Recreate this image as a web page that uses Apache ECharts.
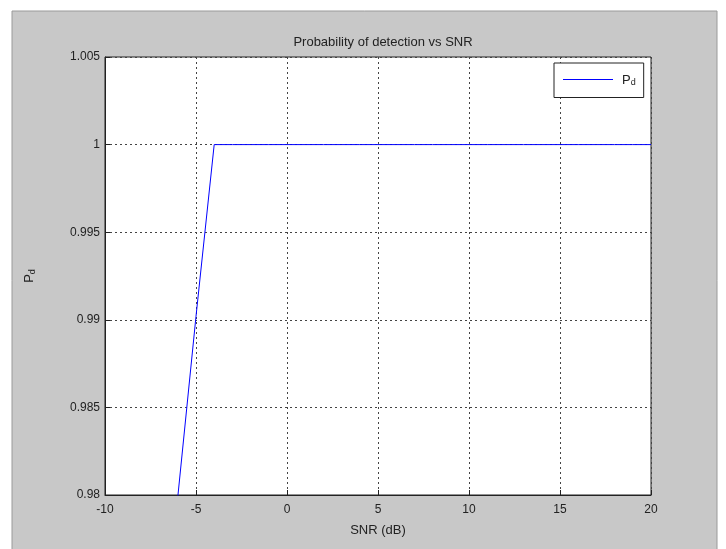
<!DOCTYPE html>
<html>
<head>
<meta charset="utf-8">
<script src="https://cdn.jsdelivr.net/npm/echarts@6/dist/echarts.min.js"></script>
<style>
  html, body { margin: 0; padding: 0; background: #fff; }
  #main { width: 726px; height: 549px; }
</style>
</head>
<body>
<div id="main"></div>
<script>
// SNR in dB and detection probability
let snr = [-6, -5, -4, -3, -2, -1, 0, 1, 2, 3, 4, 5, 6, 7, 8, 9, 10, 11, 12, 13, 14, 15, 16, 17, 18, 19, 20];
let pd = [0.9799, 0.9902, 1, 1, 1, 1, 1, 1, 1, 1, 1, 1, 1, 1, 1, 1, 1, 1, 1, 1, 1, 1, 1, 1, 1, 1, 1];
let xTicks = [-10, -5, 0, 5, 10, 15, 20];
let yTicks = [0.98, 0.985, 0.99, 0.995, 1, 1.005];

let font = "Liberation Sans";
let blue = "#0000ff";
let gridLine = { show: true, lineStyle: { color: "#444", type: [2, 3], width: 1 } };
let subRich = {
    p: { fontFamily: font, fontSize: 13, color: "#222" },
    s: { fontFamily: font, fontSize: 9, color: "#222", verticalAlign: "bottom", padding: [6, 0, 0, 0] }
};

let chart = echarts.init(document.getElementById("main"));
let option = {
    animation: false,
    color: [blue],
    backgroundColor: "#fff",
    textStyle: { fontFamily: font },
    graphic: [
        {
            type: "rect",
            z: -10,
            shape: { x: 12, y: 11, width: 705, height: 545 },
            style: { fill: "#c8c8c8", stroke: "#9a9a9a", lineWidth: 1 }
        },
        {
            // legend sample line
            type: "line",
            z: 100,
            shape: { x1: 563, y1: 79.5, x2: 613, y2: 79.5 },
            style: { stroke: blue, lineWidth: 1 }
        }
    ],
    title: {
        text: "Probability of detection vs SNR",
        left: 378,
        top: 31,
        textAlign: "center",
        textStyle: { fontFamily: font, fontSize: 13, fontWeight: "normal", color: "#222" }
    },
    legend: {
        left: 554,
        top: 63,
        orient: "vertical",
        backgroundColor: "#fff",
        borderColor: "#222",
        borderWidth: 1,
        borderRadius: 0,
        padding: [10, 8, 10, 9],
        icon: "none",
        itemWidth: 50,
        itemHeight: 14,
        itemGap: 0,
        formatter: function () { return "{p|P}{s|d}"; },
        textStyle: { color: "#222", padding: [0, 0, 0, 4], rich: subRich },
        data: ["Pd"]
    },
    grid: {
        left: 105,
        top: 57,
        width: 546,
        height: 438,
        show: true,
        backgroundColor: "#fff",
        borderColor: "#222",
        borderWidth: 1
    },
    xAxis: {
        type: "value",
        min: xTicks[0],
        max: xTicks[xTicks.length - 1],
        interval: 5,
        name: "SNR (dB)",
        nameLocation: "middle",
        nameGap: 29,
        nameTextStyle: { fontFamily: font, fontSize: 13, color: "#222" },
        axisLine: { show: true, onZero: false, lineStyle: { color: "#222" } },
        axisTick: { show: true, inside: true, length: 5, lineStyle: { color: "#222" } },
        axisLabel: { margin: 9, fontFamily: font, fontSize: 12, color: "#222" },
        splitLine: gridLine
    },
    yAxis: {
        type: "value",
        min: yTicks[0],
        max: yTicks[yTicks.length - 1],
        interval: 0.005,
        name: "{p|P}{s|d}",
        nameLocation: "middle",
        nameRotate: 90,
        nameGap: 68,
        nameTextStyle: { rich: subRich },
        axisLine: { show: true, onZero: false, lineStyle: { color: "#222" } },
        axisTick: { show: true, inside: true, length: 5, lineStyle: { color: "#222" } },
        axisLabel: {
            margin: 5,
            fontFamily: font,
            fontSize: 12,
            color: "#222",
            formatter: function (v) { return String(+v.toFixed(3)); }
        },
        splitLine: gridLine
    },
    series: [
        {
            name: "Pd",
            type: "line",
            symbol: "none",
            clip: true,
            lineStyle: { color: blue, width: 1 },
            itemStyle: { color: blue },
            data: snr.map(function (x, i) { return [x, pd[i]]; })
        }
    ]
};
chart.setOption(option);
</script>
</body>
</html>
